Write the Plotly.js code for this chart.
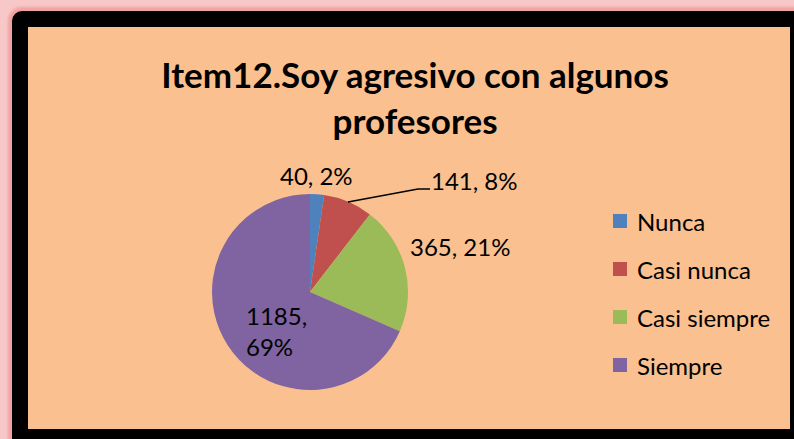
<!DOCTYPE html>
<html>
<head>
<meta charset="utf-8">
<script src="https://cdn.plot.ly/plotly-3.0.1.min.js"></script>
<style>
  html, body { margin:0; padding:0; width:794px; height:439px; overflow:hidden; background:#F8C8C8; }
  #frame { position:absolute; left:12px; top:11px; width:762px; height:402px;
           border-style:solid; border-color:#000; border-width:16px 4px 10px 16px;
           border-top-left-radius:10px; background:#FAC090;
           box-shadow:0 0 3px 4px #F1A2A2; }
  #chart { width:762px; height:402px; }
</style>
</head>
<body>
<div id="frame"><div id="chart"></div></div>
<script>
const categories = ["Nunca", "Casi nunca", "Casi siempre", "Siempre"];
const values = [40, 141, 365, 1185];
const colors = ["#4F81BD", "#C0504D", "#9BBB59", "#8064A2"];
const titleLines = ["Item12.Soy agresivo con algunos", "profesores"];

// Percentages rounded so they add up to 100 (largest remainder)
const total = values.reduce((a, b) => a + b, 0);
const raw = values.map(v => v / total * 100);
const pct = raw.map(Math.floor);
let left = 100 - pct.reduce((a, b) => a + b, 0);
raw.map((r, i) => [r - Math.floor(r), i]).sort((a, b) => b[0] - a[0])
   .slice(0, left).forEach(([, i]) => pct[i] += 1);
const labelText = values.map((v, i) => v + ", " + pct[i] + "%");

const W = 762, H = 402;
const px = x => x / W, py = y => 1 - y / H;
const FONT = "Lato, 'Open Sans', sans-serif";

// label placements (chart pixels)
const labelPos = [
  {x: 288, y: 148, xa: "center"},
  {x: 447, y: 154, xa: "center"},
  {x: 432, y: 219, xa: "center"},
  {x: 216, y: 304, xa: "left"}
];

const annotations = labelPos.map((p, i) => ({
  xref: "paper", yref: "paper", x: px(p.x), y: py(p.y),
  xanchor: p.xa, yanchor: "middle", align: "left", showarrow: false,
  text: i === 3 ? labelText[i].replace(" ", "<br>") : labelText[i],
  font: {family: FONT, size: 24, color: "#000"}
}));

const shapes = [{
  type: "path", xref: "paper", yref: "paper",
  path: `M${px(320)},${py(175)} L${px(390)},${py(162)} L${px(402)},${py(162)}`,
  line: {color: "#000", width: 1.5}
}];

// manual legend
const legY = [194, 242, 290, 338];
categories.forEach((c, i) => {
  shapes.push({type: "rect", xref: "paper", yref: "paper",
    x0: px(585), x1: px(599), y0: py(legY[i] + 7), y1: py(legY[i] - 7),
    fillcolor: colors[i], line: {width: 0}});
  annotations.push({xref: "paper", yref: "paper", x: px(607), y: py(legY[i]),
    xanchor: "left", yanchor: "middle", showarrow: false, text: c,
    font: {family: FONT, size: 24, color: "#000"}});
});

const trace = {
  type: "pie", labels: categories, values: values, sort: false,
  direction: "clockwise", rotation: 0,
  marker: {colors: colors, line: {width: 0}},
  textinfo: "none", hoverinfo: "label+value+percent",
  domain: {x: [px(184), px(380)], y: [py(363), py(167)]},
  showlegend: false
};

const layout = {
  width: W, height: H, margin: {l: 0, r: 0, t: 0, b: 0},
  paper_bgcolor: "#FAC090", plot_bgcolor: "#FAC090",
  showlegend: false,
  title: {text: titleLines.join("<br>"), x: 0.508, xanchor: "center",
          y: py(61), yref: "container", yanchor: "middle",
          font: {family: FONT, size: 35, color: "#000", weight: "bold"}},
  annotations: annotations, shapes: shapes
};

Plotly.newPlot("chart", [trace], layout, {displayModeBar: false, staticPlot: true});
</script>
</body>
</html>
